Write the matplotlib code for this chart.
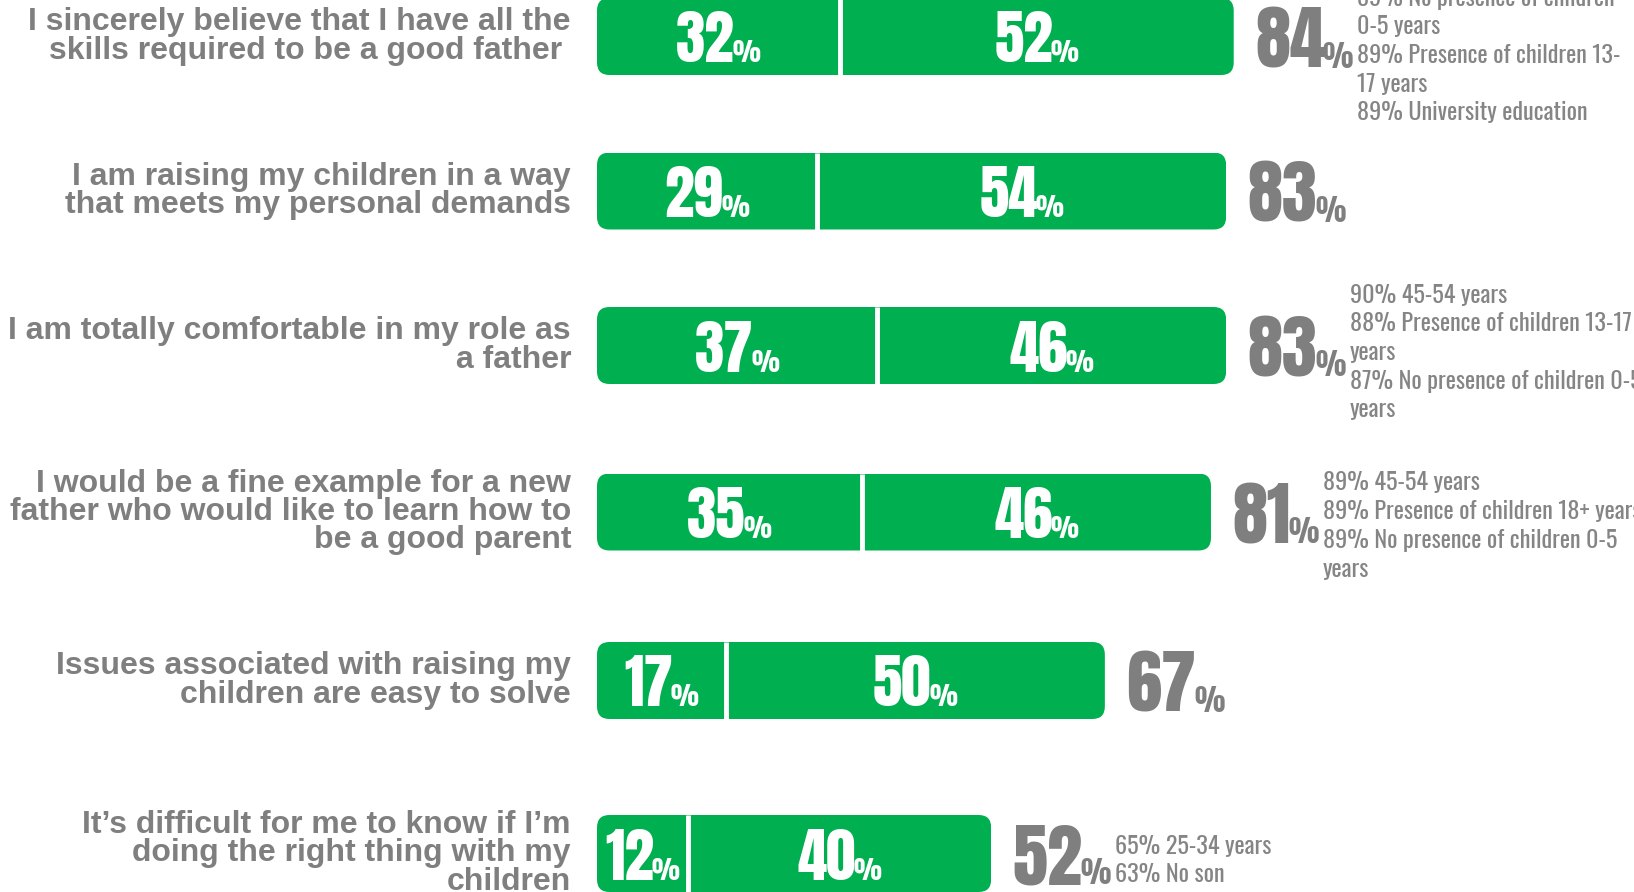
import matplotlib
matplotlib.use("Agg")
import matplotlib.pyplot as plt
from matplotlib.patches import FancyBboxPatch
from matplotlib.font_manager import FontProperties
from matplotlib.textpath import TextPath

# survey statements and agreement shares
statements = [
    "I sincerely believe that I have all the\nskills required to be a good father ",
    "I am raising my children in a way\nthat meets my personal demands",
    "I am totally comfortable in my role as\na father",
    "I would be a fine example for a new\nfather who would like to learn how to\nbe a good parent",
    "Issues associated with raising my\nchildren are easy to solve",
    "It\u2019s difficult for me to know if I\u2019m\ndoing the right thing with my\nchildren",
]
strongly_agree = [32, 29, 37, 35, 17, 12]
agree = [52, 54, 46, 46, 50, 40]
total_agree = [84, 83, 83, 81, 67, 52]
highlights = [
    "89% No presence of children\n0-5 years\n89% Presence of children 13-\n17 years\n89% University education",
    "",
    "90% 45-54 years\n88% Presence of children 13-17\nyears\n87% No presence of children 0-5\nyears",
    "89% 45-54 years\n89% Presence of children 18+ years\n89% No presence of children 0-5\nyears",
    "",
    "65% 25-34 years\n63% No son",
]

GREEN = "#00b050"
GREY = "#7f7f7f"
W, H = 1634, 892
x0 = 597          # pixel where the bars start
ppu = 7.58        # pixels per percentage point
row_y = [36.5, 191, 345.5, 512, 680.5, 853.5]
note_dy = [19, 0, 7, 14, 0, 7]   # drop of each highlight block below its bar
bar_h = 77

num_font = ["Anton", "Oswald", "DejaVu Sans"]
note_font = ["Oswald", "Archivo Narrow", "DejaVu Sans"]


def size_for(px, family, weight="normal", glyph="8"):
    # font size (pt) giving a glyph of the requested pixel height
    fp = FontProperties(family=family, weight=weight)
    h = TextPath((0, 0), glyph, size=100, prop=fp).get_extents().height / 100
    return px / (h * 100 / 72)


fig = plt.figure(figsize=(W / 100, H / 100), dpi=100)
ax = fig.add_axes([0, 0, 1, 1])
ax.set_xlim(-x0 / ppu, (W - x0) / ppu)
ax.set_ylim(H, 0)
ax.axis("off")
r = fig.canvas.get_renderer()

in_big, in_small = size_for(52, num_font), size_for(23, num_font, glyph="%")
tot_big, tot_small = size_for(62, num_font), size_for(25, num_font, glyph="%")
note_size = size_for(20, note_font, "light")


def pct(xc, yc, num, big_px, big, small, color, centered=True):
    t1 = ax.text(0, 0, str(num), fontsize=big, color=color, family=num_font,
                 ha="right", va="baseline")
    t2 = ax.text(0, 0, "%", fontsize=small, color=color, family=num_font,
                 ha="left", va="baseline")
    w1 = t1.get_window_extent(r).width / ppu
    w2 = t2.get_window_extent(r).width / ppu
    anchor = xc + (w1 - w2) / 2 if centered else xc + w1
    base = yc + big_px / 2
    t1.set_position((anchor + 0.1, base))
    t2.set_position((anchor - 0.15, base))
    return t2


for i, y in enumerate(row_y):
    a, b, tot = strongly_agree[i], agree[i], total_agree[i]
    clip = FancyBboxPatch((0, y - bar_h / 2), a + b, bar_h,
                          boxstyle="round,pad=0,rounding_size=1.65",
                          mutation_aspect=ppu, transform=ax.transData)
    bars = ax.barh([y, y], [a, b], left=[0, a], height=bar_h, color=GREEN)
    for p in bars:
        p.set_clip_path(clip)
    ax.vlines(a, y - bar_h / 2, y + bar_h / 2, color="white", lw=3.5)

    ax.text(-26 / ppu, y, statements[i], ha="right", va="center",
            multialignment="right", fontsize=23, fontweight="bold",
            color=GREY, family="Liberation Sans", linespacing=0.93)

    pct(a / 2, y, a, 52, in_big, in_small, "white")
    pct(a + b / 2, y, b, 52, in_big, in_small, "white")
    t = pct(a + b + 2.7, y, tot, 62, tot_big, tot_small, GREY, centered=False)

    if highlights[i]:
        ax.annotate(highlights[i], xy=(1, y + note_dy[i]), xycoords=(t, "data"),
                    xytext=(3, 0), textcoords="offset points",
                    ha="left", va="center", fontsize=note_size, color="#858585",
                    family=note_font, fontweight="light", linespacing=1.3,
                    annotation_clip=False)

fig.savefig("out.png", dpi=100, facecolor="white")
